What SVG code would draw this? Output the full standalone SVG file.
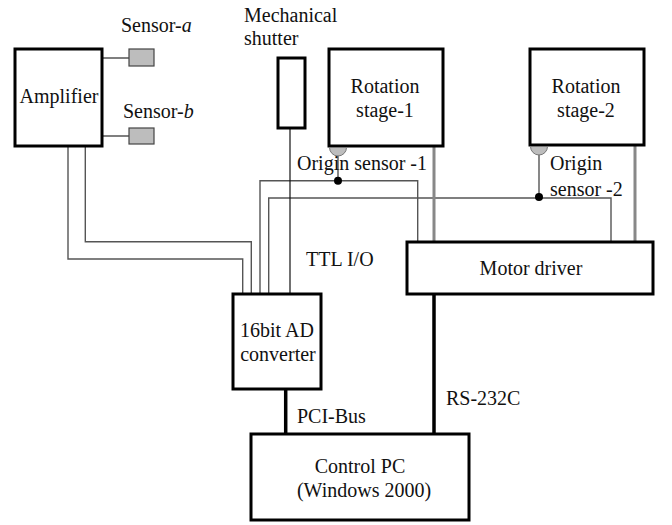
<svg xmlns="http://www.w3.org/2000/svg" width="672" height="525" viewBox="0 0 672 525" font-family="'Liberation Serif', 'Times New Roman', Times, 'DejaVu Serif', serif">
<style>
text{font-family:'Liberation Serif','Times New Roman',Times,'DejaVu Serif',serif;font-size:20px;fill:#111}
.box{fill:#fff;stroke:#000;stroke-width:3}
.sensor{fill:#bdbdbd;stroke:#444;stroke-width:1.2}
.w{fill:none;stroke:#555;stroke-width:1.4}
.k{fill:none;stroke:#111;stroke-width:1.2}
.g{fill:none;stroke:#888;stroke-width:3}
.bus{fill:none;stroke:#000;stroke-width:3.5}
.m{text-anchor:middle}
</style>
<g id="connectors">
<path class="w" d="M102,58H129M102,136H129"/>
<path class="w" d="M68,146V259H242.7V294"/>
<path class="w" d="M85.3,146V241.7H251.3V294"/>
<path class="w" d="M260,294V180.7H417.7V242"/>
<path class="w" d="M268.7,294V198H611V242"/>
<path class="k" d="M290,128V294"/>
<path class="w" d="M338,150V180.7"/>
<path class="w" d="M539,149V197.7"/>
<path class="g" d="M434,146V242M635,145V242"/>
<path class="bus" d="M285.7,389V434M434,294V434"/>
<circle cx="338" cy="180.7" r="4" fill="#000"/>
<circle cx="539" cy="197" r="4" fill="#000"/>
</g>
<g id="amplifier"><rect class="box" x="15" y="49" width="87" height="97"/><text x="59" y="103" class="m">Amplifier</text></g>
<g id="sensor-a"><rect class="sensor" x="129" y="49" width="25" height="17"/><text x="121" y="32">Sensor-<tspan font-style="italic">a</tspan></text></g>
<g id="sensor-b"><rect class="sensor" x="129" y="128" width="25" height="16"/><text x="123" y="118">Sensor-<tspan font-style="italic">b</tspan></text></g>
<g id="shutter"><rect class="box" x="278" y="58" width="27" height="70"/><text x="244" y="22">Mechanical</text><text x="244" y="45">shutter</text></g>
<g id="stage1"><rect class="box" x="329" y="49" width="114" height="97"/><text x="385" y="93" class="m">Rotation</text><text x="385" y="117" class="m">stage-1</text>
<path d="M329.5,147.5A8.5,8.5 0 0 0 346.5,147.5Z" fill="#bdbdbd" stroke="#777" stroke-width="1"/></g>
<g id="origin1"><text x="297" y="170">Origin sensor -1</text></g>
<g id="stage2"><rect class="box" x="530" y="49" width="114" height="96"/><text x="586" y="93" class="m">Rotation</text><text x="586" y="117" class="m">stage-2</text>
<path d="M530.5,146.5A8.5,8.5 0 0 0 547.5,146.5Z" fill="#bdbdbd" stroke="#777" stroke-width="1"/></g>
<g id="origin2"><text x="550" y="170">Origin</text><text x="550" y="196">sensor -2</text></g>
<g id="motor"><rect class="box" x="407" y="242" width="246" height="52"/><text x="531" y="275" class="m">Motor driver</text></g>
<g id="ttl"><text x="306" y="266">TTL I/O</text></g>
<g id="adc"><rect class="box" x="233" y="294" width="88" height="95"/><text x="277" y="337" class="m">16bit AD</text><text x="278" y="361" class="m">converter</text></g>
<g id="pcibus"><text x="297" y="423">PCI-Bus</text></g>
<g id="rs232"><text x="446" y="405">RS-232C</text></g>
<g id="pc"><rect class="box" x="251" y="434" width="218" height="86"/><text x="360" y="473" class="m">Control PC</text><text x="364" y="497" class="m">(Windows 2000)</text></g>
</svg>
